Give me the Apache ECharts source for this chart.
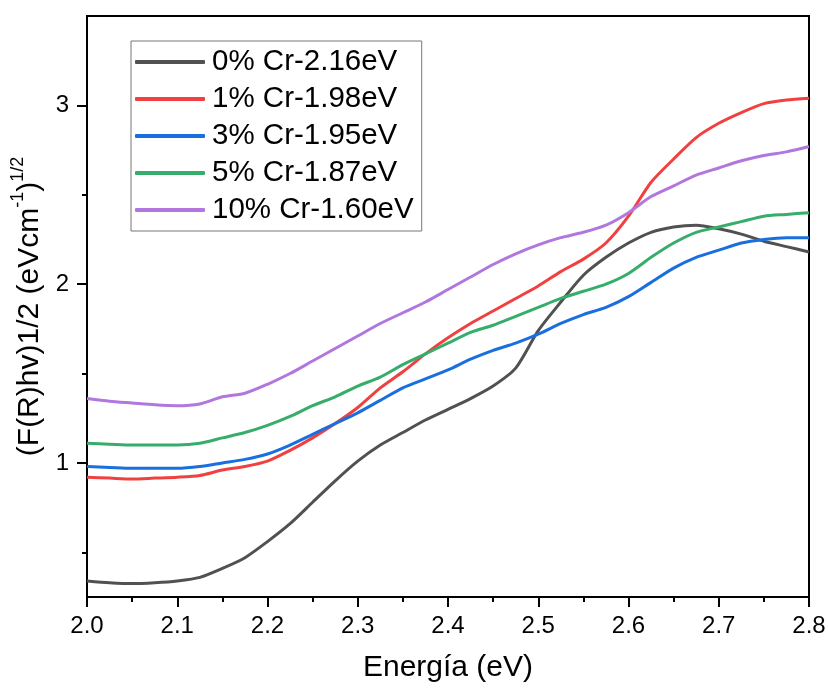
<!DOCTYPE html>
<html>
<head>
<meta charset="utf-8">
<script src="https://cdn.jsdelivr.net/npm/echarts@6/dist/echarts.min.js"></script>
<style>html,body{margin:0;padding:0;background:#fff;}#chart{width:829px;height:688px;}</style>
</head>
<body>
<div id="chart"></div>
<script>
const energy = [2.0,2.025,2.05,2.075,2.1,2.125,2.15,2.175,2.2,2.225,2.25,2.275,2.3,2.325,2.35,2.375,2.4,2.425,2.45,2.475,2.5,2.525,2.55,2.575,2.6,2.625,2.65,2.675,2.7,2.725,2.75,2.775,2.8];
const seriesNames = ['0% Cr-2.16eV','1% Cr-1.98eV','3% Cr-1.95eV','5% Cr-1.87eV','10% Cr-1.60eV'];
const cr0 = [0.34,0.33,0.325,0.33,0.34,0.36,0.41,0.47,0.56,0.66,0.78,0.90,1.01,1.10,1.17,1.24,1.30,1.36,1.43,1.53,1.74,1.90,2.05,2.15,2.23,2.29,2.32,2.33,2.31,2.28,2.24,2.21,2.18];
const cr1 = [0.92,0.915,0.91,0.915,0.92,0.93,0.96,0.98,1.01,1.07,1.14,1.22,1.31,1.42,1.51,1.61,1.70,1.78,1.85,1.92,1.99,2.07,2.14,2.23,2.38,2.57,2.70,2.82,2.90,2.96,3.01,3.03,3.04];
const cr3 = [0.98,0.975,0.97,0.97,0.97,0.98,1.00,1.02,1.05,1.10,1.16,1.22,1.28,1.35,1.42,1.47,1.52,1.58,1.63,1.67,1.72,1.78,1.83,1.87,1.93,2.01,2.09,2.15,2.19,2.23,2.25,2.26,2.26];
const cr5 = [1.11,1.105,1.10,1.10,1.10,1.11,1.14,1.17,1.21,1.26,1.32,1.37,1.43,1.48,1.55,1.61,1.67,1.73,1.77,1.82,1.87,1.92,1.96,2.00,2.06,2.15,2.23,2.29,2.32,2.35,2.38,2.39,2.40];
const cr10 = [1.36,1.345,1.335,1.325,1.32,1.33,1.37,1.39,1.44,1.50,1.57,1.64,1.71,1.78,1.84,1.90,1.97,2.04,2.11,2.17,2.22,2.26,2.29,2.33,2.40,2.49,2.55,2.61,2.65,2.69,2.72,2.74,2.77];
const yMajorTicks = [1,2,3];
const yMinorTicks = [0.5,1.5,2.5];

const colors = ['#515151','#F14040','#1A6FDF','#37AD6B','#B177DE'];
const allData = [cr0,cr1,cr3,cr5,cr10];
const FONT = '"Liberation Sans", Arial, sans-serif';

const chart = echarts.init(document.getElementById('chart'), null, {renderer:'canvas'});
const series = allData.map((vals,i)=>({
  name: seriesNames[i],
  type: 'line',
  data: energy.map((e,j)=>[e, vals[j]]),
  showSymbol: false,
  smooth: 0.25,
  lineStyle: {color: colors[i], width: 3},
  itemStyle: {color: colors[i]},
  z: 3 + i
}));

chart.setOption({
  animation: false,
  backgroundColor: '#fff',
  color: colors,
  grid: {left: 87, right: 20, top: 16, bottom: 90, show: true, borderColor: '#000', borderWidth: 2, backgroundColor: 'transparent'},
  legend: {
    orient: 'vertical', left: 131, top: 41,
    icon: 'roundRect', itemWidth: 70, itemHeight: 4, itemGap: 7,
    padding: [6, 8, 6, 4],
    borderColor: '#777', borderWidth: 1,
    textStyle: {fontFamily: FONT, fontSize: 29.5, color: '#000', lineHeight: 30, padding: [0,0,0,2]},
    data: seriesNames
  },
  xAxis: {
    type: 'value', min: 2.0, max: 2.8, interval: 0.1,
    name: 'Energía (eV)', nameLocation: 'middle', nameGap: 56,
    nameTextStyle: {fontFamily: FONT, fontSize: 30, color: '#000'},
    axisLine: {show: true, lineStyle: {color: '#000', width: 2}},
    axisTick: {show: true, inside: false, length: 10, lineStyle: {color: '#000', width: 2}},
    minorTick: {show: true, splitNumber: 2, length: 5, lineStyle: {color: '#000', width: 2}},
    splitLine: {show: false},
    axisLabel: {fontFamily: FONT, fontSize: 24, color: '#000', margin: 17, formatter: v => v.toFixed(1)}
  },
  yAxis: [{
    type: 'value', min: 0.25, max: 3.5,
    name: '{n|(F(R)hv)1/2 (eVcm}{s|-1}{n|)}{s|1/2}', nameLocation: 'middle', nameGap: 35,
    nameTextStyle: {
      fontFamily: FONT, color: '#000',
      rich: {
        n: {fontFamily: FONT, fontSize: 30, color: '#000', lineHeight: 36, verticalAlign: 'bottom'},
        s: {fontFamily: FONT, fontSize: 18, color: '#000', lineHeight: 36, verticalAlign: 'top', padding: [0,0,0,0]}
      }
    },
    axisLine: {show: true, lineStyle: {color: '#000', width: 2}},
    axisTick: {show: true, inside: false, length: 10, customValues: yMajorTicks, lineStyle: {color: '#000', width: 2}},
    splitLine: {show: false},
    axisLabel: {fontFamily: FONT, fontSize: 24, color: '#000', margin: 18, customValues: yMajorTicks, formatter: v => String(Math.round(v))}
  },{
    type: 'value', min: 0.25, max: 3.5, position: 'left', offset: 0,
    axisLine: {show: false},
    axisTick: {show: true, inside: false, length: 5, customValues: yMinorTicks, lineStyle: {color: '#000', width: 2}},
    splitLine: {show: false},
    axisLabel: {show: false}
  }],
  series: series
});
</script>
</body>
</html>
